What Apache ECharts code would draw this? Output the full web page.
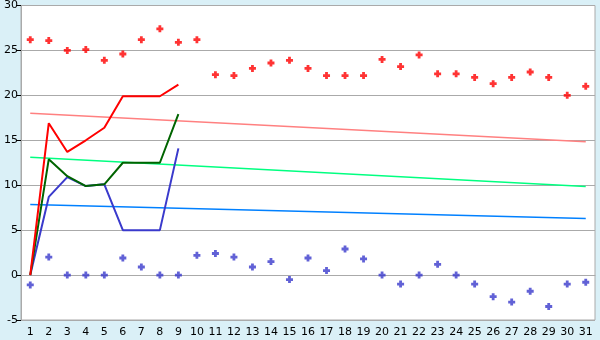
<!DOCTYPE html>
<html><head><meta charset="utf-8">
<script src="https://cdn.jsdelivr.net/npm/echarts@6/dist/echarts.min.js"></script>
<style>html,body{margin:0;padding:0;background:#daf0f7;}#c{width:600px;height:340px;}</style>
</head><body><div id="c"></div>
<script>
const categories = Array.from({length:31}, (_, i) => String(i + 1));
const redPoints = [26.2,26.1,25.0,25.1,23.9,24.6,26.2,27.4,25.9,26.2,22.3,22.2,23.0,23.6,23.9,23.0,22.2,22.2,22.2,24.0,23.2,24.5,22.4,22.4,22.0,21.3,22.0,22.6,22.0,20.0,21.0];
const bluePoints = [-1.1,2.0,0,0,0,1.9,0.9,0,0,2.2,2.4,2.0,0.9,1.5,-0.5,1.9,0.5,2.9,1.8,0,-1.0,0,1.2,0,-1.0,-2.4,-3.0,-1.8,-3.5,-1.0,-0.8];
const redLine = [0,16.9,13.7,15.0,16.4,19.9,19.9,19.9,21.2];
const greenLine = [0,12.9,11.0,9.9,10.1,12.5,12.5,12.5,17.9];
const blueLine = [0,8.7,10.9,9.9,10.1,5.0,5.0,5.0,14.1];
const trendPink = [18.0, 14.85];
const trendGreen = [13.1, 9.85];
const trendBlue = [7.85, 6.3];
const yTicks = [-5,0,5,10,15,20,25,30];

const marker = 'path://M1.5,0H3.5V1.5H5V3.5H3.5V5H1.5V3.5H0V1.5H1.5Z';
const trend = (vals, color) => ({
  type:'line', data:[[0, vals[0]],[categories.length-1, vals[1]]], symbol:'none',
  lineStyle:{color, width:1.5}, silent:true, z:2
});
const line = (vals, color, z) => ({
  type:'line', data:vals, symbol:'none', lineStyle:{color, width:2}, z
});
const chart = echarts.init(document.getElementById('c'), null, {renderer:'canvas'});
chart.setOption({
  backgroundColor:'#daf0f7',
  animation:false,
  grid:{left:21, right:5, top:5, bottom:20, show:true, backgroundColor:'#ffffff', borderColor:'#aaaaaa', borderWidth:1},
  xAxis:{type:'category', data:categories, boundaryGap:true,
    axisLine:{lineStyle:{color:'#aaaaaa', width:1}},
    axisTick:{alignWithLabel:true, length:5, lineStyle:{color:'#000'}},
    axisLabel:{color:'#000', fontFamily:'DejaVu Sans', fontSize:11, margin:7, interval:0},
    splitLine:{show:false}},
  yAxis:{type:'value', min:yTicks[0], max:yTicks[yTicks.length-1], interval:5,
    axisLine:{show:true, lineStyle:{color:'#aaaaaa', width:1}},
    axisTick:{show:true, length:5, lineStyle:{color:'#000'}},
    axisLabel:{color:'#000', fontFamily:'DejaVu Sans', fontSize:11, margin:3},
    splitLine:{lineStyle:{color:'#aaaaaa', width:1}}},
  series:[
    trend(trendPink, '#ff8080'),
    trend(trendGreen, '#00ff80'),
    trend(trendBlue, '#0080ff'),
    line(blueLine, '#3a3acc', 3),
    line(greenLine, '#006400', 4),
    line(redLine, '#ff0000', 5),
    {type:'scatter', data:redPoints, symbol:marker, symbolSize:7, itemStyle:{color:'#ff0000'}, z:6},
    {type:'scatter', data:bluePoints, symbol:marker, symbolSize:7, itemStyle:{color:'#3a3acc'}, z:6}
  ]
});
</script></body></html>
